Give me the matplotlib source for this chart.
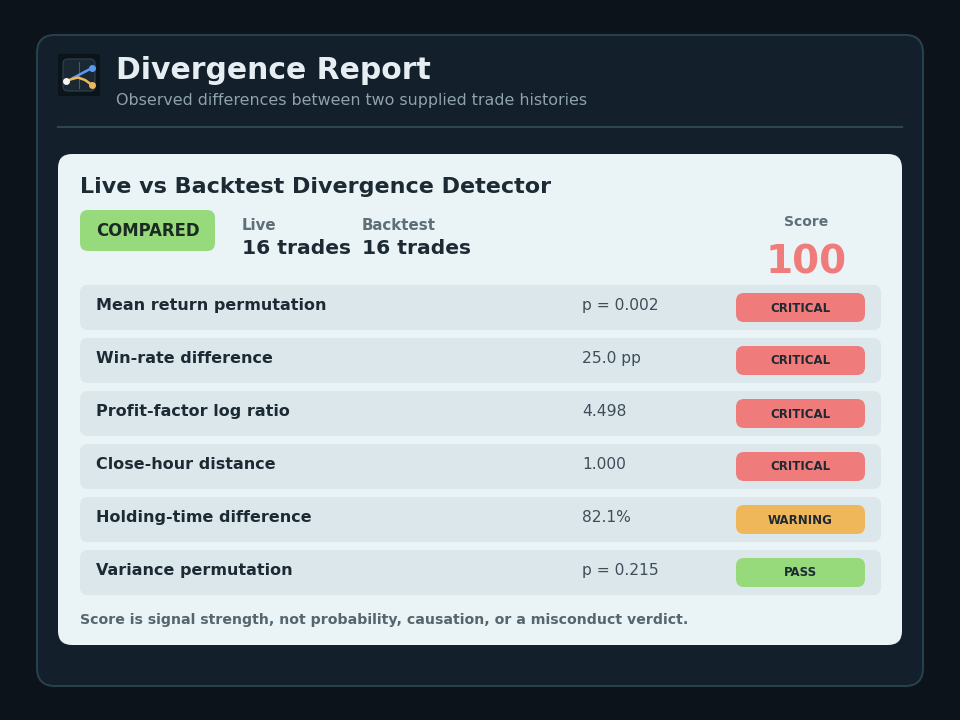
import matplotlib
matplotlib.use("Agg")
import matplotlib.pyplot as plt
from matplotlib.patches import FancyBboxPatch, Rectangle

# ---- data ----
title = "Divergence Report"
subtitle = "Observed differences between two supplied trade histories"
card_title = "Live vs Backtest Divergence Detector"
status = "COMPARED"
live_trades = 16
backtest_trades = 16
score = 100
checks = ["Mean return permutation", "Win-rate difference", "Profit-factor log ratio",
          "Close-hour distance", "Holding-time difference", "Variance permutation"]
values = ["p = 0.002", "25.0 pp", "4.498", "1.000", "82.1%", "p = 0.215"]
levels = ["CRITICAL", "CRITICAL", "CRITICAL", "CRITICAL", "WARNING", "PASS"]
footer = "Score is signal strength, not probability, causation, or a misconduct verdict."

level_colors = {"CRITICAL": "#f07b7b", "WARNING": "#f0b65a", "PASS": "#96da7c"}

plt.rcParams['font.family'] = ['DejaVu Sans']
fig = plt.figure(figsize=(9.6, 7.2), dpi=100)
fig.patch.set_facecolor("#0d131a")
ax = fig.add_axes([0, 0, 1, 1])
ax.set_xlim(0, 960)
ax.set_ylim(720, 0)
ax.axis("off")


def rbox(x, y, w, h, r, fc, ec="none", lw=0, z=1):
    p = FancyBboxPatch((x, y), w, h, boxstyle=f"round,pad=0,rounding_size={r}",
                       fc=fc, ec=ec, lw=lw, zorder=z)
    ax.add_patch(p)
    return p


# outer panel
rbox(37, 35, 886, 651, 18, "#131f2a", ec="#27414c", lw=1.5, z=1)

# icon
ax.add_patch(Rectangle((58, 54), 42, 42, fc="#0b141b", ec="none", zorder=2))
rbox(63, 59, 32, 32, 5, "#192833", ec="#2c3c47", lw=1, z=3)
ax.plot([79, 79], [62, 88], color="#4a5a66", lw=0.8, zorder=4)
ax.plot([73, 92], [78, 68], color="#5b9bef", lw=1.8, zorder=5)
ax.plot([92], [68], "o", color="#5b9bef", ms=4, zorder=6)
ax.plot([66, 72, 78, 85, 92], [81, 79, 77.5, 80, 85], color="#f0b65a", lw=1.8, zorder=5)
ax.plot([92], [85], "o", color="#f0b65a", ms=4, zorder=6)
ax.plot([66], [81], "o", color="#f2f4f5", ms=4, zorder=6)

# header
ax.text(116, 70.5, title, fontsize=21.5, fontweight="bold", color="#e6eef3", va="center", ha="left", zorder=5)
ax.text(116, 101, subtitle, fontsize=11.4, color="#8fa2ae", va="center", ha="left", zorder=5)
ax.plot([58, 902], [127, 127], color="#2b4650", lw=1.5, zorder=2)

# card
rbox(58, 154, 844, 491, 14, "#eaf3f5", z=2)
ax.text(80, 187, card_title, fontsize=16, fontweight="bold", color="#1c2a33", va="center", ha="left", zorder=5)

# status badge
rbox(80, 210, 135, 41, 8, "#96da7c", z=3)
ax.text(147.5, 230.5, status, fontsize=11.9, fontweight="bold", color="#1b2a22", va="center", ha="center", zorder=5)

# trade counts
ax.text(242, 225, "Live", fontsize=10.8, fontweight="bold", color="#5e6f7a", va="center", ha="left", zorder=5)
ax.text(242, 249, f"{live_trades} trades", fontsize=14.6, fontweight="bold", color="#1c2a33", va="center", ha="left", zorder=5)
ax.text(362, 225, "Backtest", fontsize=10.8, fontweight="bold", color="#5e6f7a", va="center", ha="left", zorder=5)
ax.text(362, 249, f"{backtest_trades} trades", fontsize=14.6, fontweight="bold", color="#1c2a33", va="center", ha="left", zorder=5)

# score
ax.text(806, 222, "Score", fontsize=10, fontweight="bold", color="#5e6f7a", va="center", ha="center", zorder=5)
ax.text(806, 262, str(score), fontsize=28, fontweight="bold", color="#f07b7b", va="center", ha="center", zorder=5)

# rows
for i, (c, v, lv) in enumerate(zip(checks, values, levels)):
    y0 = 285 + i * 53
    rbox(80, y0, 801, 45, 8, "#dce7ec", z=3)
    yc = y0 + 20.5
    ax.text(96, yc, c, fontsize=11.5, fontweight="bold", color="#1c2a33", va="center", ha="left", zorder=5)
    ax.text(582, yc, v, fontsize=11.2, color="#3e4e58", va="center", ha="left", zorder=5)
    rbox(736, y0 + 8, 129, 29, 8, level_colors[lv], z=4)
    ax.text(800.5, y0 + 23, lv, fontsize=8.5, fontweight="bold", color="#1d2a33", va="center", ha="center", zorder=5)

ax.text(80, 620, footer, fontsize=10.2, fontweight="bold", color="#56666f", va="center", ha="left", zorder=5)

fig.savefig("out.png", dpi=100, facecolor=fig.get_facecolor())
